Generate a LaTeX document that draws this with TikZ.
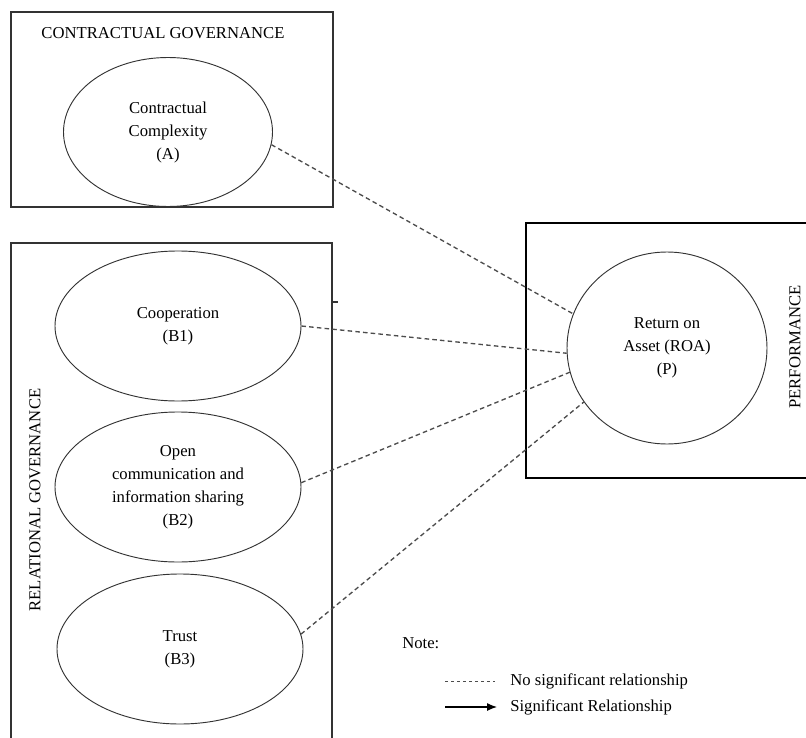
\documentclass[tikz,border=0pt]{standalone}
\usepackage{fontspec}
\setmainfont{Liberation Serif}
\usetikzlibrary{arrows.meta,shapes.geometric}
\newcommand{\figtxt}{\fontsize{12.5pt}{17.25pt}\selectfont}
\tikzset{
  >={Latex[length=7.5pt,width=6pt]},
  grp/.style    ={draw=black!80, line width=0.8pt},
  perfbox/.style={draw, line width=1.6pt},
  cons/.style   ={ellipse, draw=black!80, line width=0.7pt, inner sep=0pt,
                  minimum width=184.5pt, minimum height=112.5pt,
                  font=\figtxt, align=center},
  nsig/.style   ={draw=black!70, line width=1pt, dash pattern=on 3.4pt off 2.4pt},
  sig/.style    ={->, draw, line width=0.9pt},
  ttl/.style    ={font=\figtxt, inner sep=0pt},
}

\begin{document}
\begin{tikzpicture}[x=0.75pt,y=-0.75pt]
\clip (0,0) rectangle (806,738);
% --- the three groups ----------------------------------------------
\draw[grp] (11,12) rectangle (333,207);
\draw[grp] (11,243) rectangle (332,760);
\draw[perfbox] (526,223) rectangle (830,478);
\draw[grp] (332,302) -- (338,302);
\node[ttl] (tC) at (163,33) {CONTRACTUAL GOVERNANCE};
\node[ttl, rotate=90] (tR) at (35,500) {RELATIONAL GOVERNANCE};
\node[ttl, rotate=90] (tP) at (795,347) {PERFORMANCE};

% --- constructs ------------------------------------------------------
\node[cons, minimum width=156.75pt, minimum height=111.75pt]
  (A) at (168,132) {Contractual\\Complexity\\(A)};
\node[cons] (B1) at (178,326) {Cooperation\\(B1)};
\node[cons] (B2) at (178,487) {Open\\communication and\\information sharing\\(B2)};
\node[cons] (B3) at (180,649) {Trust\\(B3)};
\node[cons, minimum width=150pt, minimum height=144pt]
  (P) at (667,348) {Return on\\Asset (ROA)\\(P)};

% --- paths -----------------------------------------------------------
\draw[nsig] (A.-7) -- (P.160);
\draw[nsig] (B1.0) -- (P.183);
\draw[nsig] (B2.2) -- (P.194);
\draw[nsig] (B3.7) -- (P.213);

% --- note --------------------------------------------------------------
\node[ttl, anchor=west] (note) at (402,643) {Note:};
\node[ttl, anchor=west] (ns) at (510,681) {No significant relationship};
\node[ttl, anchor=west] (sg) at (510,707) {Significant Relationship};
\coordinate (ns0) at (445,681);
\coordinate (sg0) at (445,707);
\draw[nsig, line width=0.6pt, dash pattern=on 2.5pt off 2pt, shorten >=11pt] (ns0) -- (ns.west);
\draw[sig, shorten >=9.75pt] (sg0) -- (sg.west);
\end{tikzpicture}
\end{document}
